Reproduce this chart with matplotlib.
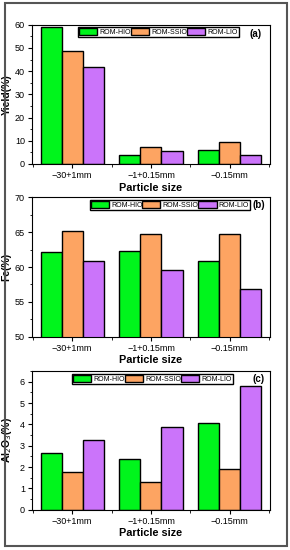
import numpy as np
import matplotlib
matplotlib.use('Agg')
import matplotlib.pyplot as plt
from matplotlib.patches import Rectangle
from matplotlib.ticker import AutoMinorLocator, MultipleLocator

sizes = ['\u221230+1mm', '\u22121+0.15mm', '\u22120.15mm']
series = ['ROM-HIO', 'ROM-SSIO', 'ROM-LIO']
colors = ['#00F51C', '#FDA462', '#CB74FA']

yield_hio = [59.2, 3.9, 5.9]
yield_ssio = [48.5, 7.3, 9.5]
yield_lio = [41.7, 5.5, 3.9]

fe_hio = [62.1, 62.3, 60.8]
fe_ssio = [65.2, 64.8, 64.7]
fe_lio = [60.8, 59.6, 56.8]

al_hio = [2.66, 2.40, 4.05]
al_ssio = [1.79, 1.32, 1.90]
al_lio = [3.28, 3.86, 5.80]

plt.rcParams['font.family'] = ['Liberation Sans', 'DejaVu Sans']

fig = plt.figure(figsize=(2.9, 5.5), dpi=100)
fig.patches.append(Rectangle((0.018, 0.007), 0.972, 0.987, transform=fig.transFigure,
                             fill=False, edgecolor='#555555', linewidth=1.5))

panels = [
    # data, ylabel, ylim, major, minor, axes rect, legend anchor, tag
    ([yield_hio, yield_ssio, yield_lio], 'Yield(%)', (0, 60), 10, 2,
     [0.110, 0.702, 0.821, 0.253], (0.195, 0.985), '(a)', (0.94, 0.935), -0.085),
    ([fe_hio, fe_ssio, fe_lio], 'Fe(%)', (50, 70), 5, 2,
     [0.110, 0.388, 0.821, 0.253], (0.243, 0.980), '(b)', (0.955, 0.945), -0.085),
    ([al_hio, al_ssio, al_lio], 'Al$_2$O$_3$(%)', (0, 6.5), 1, 2,
     [0.110, 0.0733, 0.821, 0.252], (0.170, 0.980), '(c)', (0.95, 0.94), -0.075),
]

x = np.arange(len(sizes))
w = 0.267
for data, ylab, ylim, major, minor, rect, anchor, tag, tagpos, ylx in panels:
    ax = fig.add_axes(rect)
    for i, vals in enumerate(data):
        ax.bar(x + (i - 1) * w, vals, w, color=colors[i], edgecolor='black',
               linewidth=1.0, label=series[i], zorder=2)
    ax.set_xlim(-0.51, 2.51)
    ax.set_ylim(*ylim)
    ax.set_xticks(x)
    ax.set_xticklabels(sizes)
    ax.xaxis.set_minor_locator(MultipleLocator(0.5))
    ax.yaxis.set_major_locator(MultipleLocator(major))
    ax.yaxis.set_minor_locator(AutoMinorLocator(minor))
    ax.tick_params(which='major', direction='out', length=3, width=0.8, labelsize=6.5, pad=2)
    ax.tick_params(which='minor', direction='out', length=1.8, width=0.6)
    for s in ax.spines.values():
        s.set_linewidth(0.8)
    ax.set_xlabel('Particle size', fontsize=7.8, fontweight='bold', labelpad=2)
    ax.set_ylabel(ylab, fontsize=7.5, fontweight='bold')
    ax.yaxis.set_label_coords(ylx, 0.5)
    ax.legend(loc='upper left', bbox_to_anchor=anchor, ncol=3, fontsize=5,
              frameon=True, fancybox=False, edgecolor='black', framealpha=1,
              borderpad=0.15, handlelength=2.6, handleheight=1.2,
              handletextpad=0.3, columnspacing=0.0, borderaxespad=0)
    ax.text(tagpos[0], tagpos[1], tag, transform=ax.transAxes, fontsize=7,
            fontweight='bold', ha='center', va='center')

fig.savefig('out.png', dpi=100)
